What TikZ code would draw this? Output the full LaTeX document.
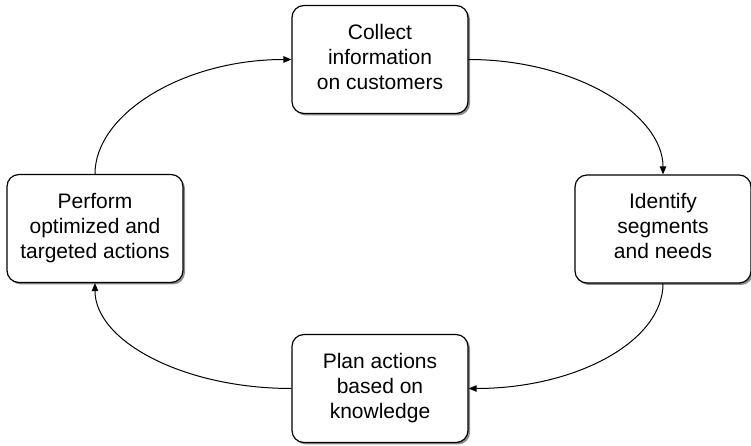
\documentclass[tikz,border=0pt]{standalone}
\usepackage{fontspec}
\setmainfont{Liberation Sans}
\usetikzlibrary{arrows.meta,shadows}
\newcommand{\stagelines}[1]{\raisebox{-2pt}{\begin{tabular}{@{}c@{}}#1\end{tabular}}}
\begin{document}
\begin{tikzpicture}[x=1pt,y=1pt,
  stage/.style={draw=black, line width=1.2pt, fill=white, rounded corners=12pt,
    minimum width=176pt, minimum height=108pt, inner sep=0pt,
    font=\fontsize{21}{25}\selectfont,
    drop shadow={shadow xshift=2pt, shadow yshift=-2pt, fill=black!45, opacity=1}},
  flow/.style={line width=1pt, -{Triangle[length=8pt,width=6.5pt]}}]
\useasboundingbox (0,0) rectangle (751,446);
\node[stage] (collect) at (380,386.5) {\stagelines{Collect\\information\\on customers}};
\node[stage] (identify) at (663,217) {\stagelines{Identify\\segments\\and needs}};
\node[stage] (plan) at (380,57.5) {\stagelines{Plan actions\\based on\\knowledge}};
\node[stage] (perform) at (95,217.5) {\stagelines{Perform\\optimized and\\targeted actions}};
\draw[flow] (collect.east) .. controls +(107,0) and +(0,60) .. (identify.north);
\draw[flow] (identify.south) .. controls +(0,-58) and +(107,0) .. (plan.east);
\draw[flow] (plan.west) .. controls +(-108,0) and +(0,-58) .. (perform.south);
\draw[flow] (perform.north) .. controls +(0,60) and +(-108,0) .. (collect.west);
\end{tikzpicture}
\end{document}
